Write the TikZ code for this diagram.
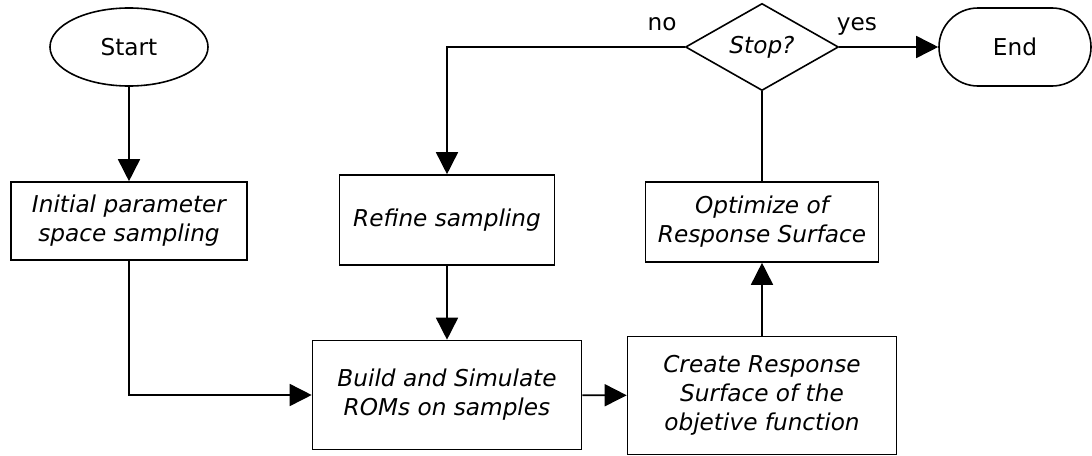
\documentclass[tikz,border=0pt]{standalone}
\usepackage{fontspec}
\setmainfont{DejaVu Sans}[ItalicFont={DejaVu Sans Oblique}]
\usetikzlibrary{shapes.geometric,shapes.misc,arrows.meta}

\begin{document}
\begin{tikzpicture}[x=0.5pt,y=-0.5pt,
    every node/.style={font=\fontsize{11.6}{14.5}\selectfont},
    process/.style={draw,line width=0.8pt,align=center,inner sep=0pt,font=\fontsize{11.6}{14.5}\selectfont\itshape},
    terminal/.style={draw,line width=0.8pt,inner sep=0pt},
    decision/.style={diamond,draw,line width=0.8pt,inner sep=0pt,font=\fontsize{11.6}{14.5}\selectfont\itshape},
    flow/.style={line width=0.8pt,-{Triangle[length=11pt,width=11pt]}},
    link/.style={line width=0.8pt}
    ]
    \useasboundingbox (0,0) rectangle (1092,455);

    % terminals
    \node[terminal,ellipse,minimum width=79pt,minimum height=39pt] (start) at (129,47) {Start};
    \node[terminal,rounded rectangle,minimum width=76pt,minimum height=39pt] (end) at (1015,47) {End};
    \node[decision,minimum width=76.5pt,minimum height=38.5pt] (stop) at (762,47) {Stop?};

    % process boxes
    \node[process,minimum width=118pt,minimum height=39pt] (init) at (129,221) {Initial parameter\\space sampling};
    \node[process,minimum width=107.5pt,minimum height=45pt] (refine) at (447,220) {Refine sampling};
    \node[process,minimum width=116.5pt,minimum height=40pt] (optimize) at (762,222) {Optimize of\\Response Surface};
    \node[process,minimum width=134.5pt,minimum height=54.5pt] (build) at (447,395) {Build and Simulate\\ROMs on samples};
    \node[process,minimum width=134.5pt,minimum height=59pt] (create) at (762,395.5) {Create Response\\Surface of the\\objetive function};

    % branch labels
    \node[anchor=base] (no) at (662,30) {no};
    \node[anchor=base] (yes) at (857,30) {yes};

    % connectors
    \draw[flow] (start) -- (init);
    \draw[flow] (init.south) |- (build.west);
    \draw[flow] (refine) -- (build);
    \draw[flow] (build) -- (create);
    \draw[flow] (create) -- (optimize);
    \draw[link] (optimize) -- (stop);
    \draw[flow] (stop.west) -| (refine.north);
    \draw[flow] (stop.east) -- (end.west);
\end{tikzpicture}
\end{document}
